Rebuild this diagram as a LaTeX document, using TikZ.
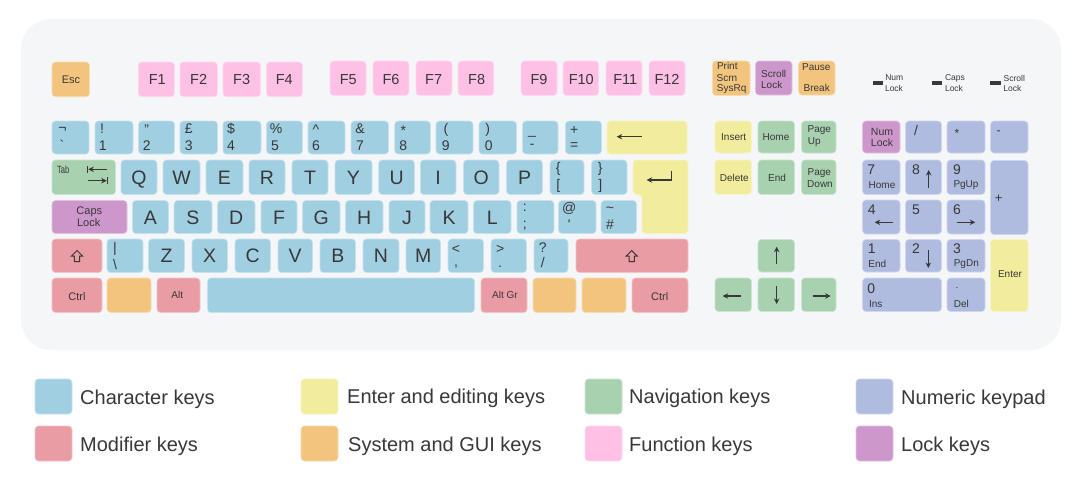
\documentclass[tikz,border=0pt]{standalone}
\usepackage{fontspec}
\setmainfont{Liberation Sans}
\usetikzlibrary{arrows.meta}
\definecolor{panel}{HTML}{F4F6F8}
\definecolor{cchar}{HTML}{A1CFE2}
\definecolor{cedit}{HTML}{F1ED9C}
\definecolor{cnav}{HTML}{A8D1B0}
\definecolor{cmod}{HTML}{E99CA4}
\definecolor{csys}{HTML}{F3C47D}
\definecolor{cfun}{HTML}{FFC0E6}
\definecolor{cnum}{HTML}{AFBCE0}
\definecolor{clock}{HTML}{CE97CC}
\definecolor{ink}{HTML}{383838}
\tikzset{
  keybase/.style={rectangle,rounded corners=3.5pt,inner sep=0pt,outer sep=0pt,line width=0.6pt,text=ink},
  kchar/.style={keybase,fill=cchar,draw=cchar!60!white},
  kedit/.style={keybase,fill=cedit,draw=cedit!60!white},
  knav/.style={keybase,fill=cnav,draw=cnav!60!white},
  kmod/.style={keybase,fill=cmod,draw=cmod!60!white},
  ksys/.style={keybase,fill=csys,draw=csys!60!white},
  kfun/.style={keybase,fill=cfun,draw=cfun!60!white},
  knum/.style={keybase,fill=cnum,draw=cnum!60!white},
  klock/.style={keybase,fill=clock,draw=clock!60!white},
  glyph/.style={draw=ink,line width=1.1pt,-{Stealth[length=5.5pt,width=5.5pt]}},
  shiftglyph/.style={draw=ink,line width=1pt,line join=miter},
  legendtext/.style={anchor=base west,inner sep=0pt,text=ink,font=\fontsize{20}{24}\selectfont},
  led/.style={fill=ink,draw=none}
}
\newcount\tcnt
% key: name, style, x1, y1, x2, y2
\newcommand{\kk}[6]{%
  \pgfmathsetmacro{\kw}{#5-#3}\pgfmathsetmacro{\kh}{#6-#4}%
  \pgfmathsetmacro{\kx}{(#3+#5)/2}\pgfmathsetmacro{\ky}{(#4+#6)/2}%
  \node[#2,minimum width=\kw pt,minimum height=\kh pt] (#1) at (\kx,\ky) {};}
% text: x, y, size, text
\newcommand{\tx}[4]{%
  \global\advance\tcnt by 1
  \node[inner sep=0pt,text=ink,font=\fontsize{#3}{#3}\selectfont] (t\the\tcnt) at (#1,#2) {#4};}
\newcommand{\shiftarrow}[2]{%
  \draw[shiftglyph,shift={(#1,#2)}] (0,-5.5) -- (5.5,0) -- (2.6,0) -- (2.6,5.5) -- (-2.6,5.5) -- (-2.6,0) -- (-5.5,0) -- cycle;}
\begin{document}
\begin{tikzpicture}[x=1pt,y=-1pt]
\useasboundingbox (0,0) rectangle (1080,490);
\fill[white] (0,0) rectangle (1080,490);
\fill[panel,rounded corners=30pt] (21,19) rectangle (1061,350);

% function row
\kk{esc}{ksys}{52}{62}{89.5}{96.7}\tx{71}{79.3}{11}{Esc}
\foreach \n/\a/\b/\c/\u/\v in {F1/138.3/174.5/157.3/62/96.7,F2/180/217.5/198.7/62/96.7,F3/223/260.5/241.7/62/96.7,F4/266.5/302.5/284.3/62/96.7,F5/330/366/348.3/61/95.5,F6/373/409/391/61/95.5,F7/416/452/433.7/61/95.5,F8/458/493.7/476.7/61/95.5,F9/521/557/539/61/95.5,F10/563/598.7/581.3/61/95.5,F11/606/642/625.3/61/95.5,F12/649/685/667/61/95.5}{
  \kk{\n}{kfun}{\a}{\u}{\b}{\v}
  \node[inner sep=0pt,text=ink,font=\fontsize{14.5}{15}\selectfont] (l\n) at (\c,79.2) {\n};
}
\kk{print}{ksys}{712.5}{61}{750}{95.5}
\tx{727.3}{66.3}{10}{Print}\tx{727}{77.7}{10}{Scrn}\tx{731.7}{89}{10}{SysRq}
\kk{scroll}{klock}{755.5}{61}{792}{95}
\tx{773.7}{73.7}{10}{Scroll}\tx{771.7}{84.7}{10}{Lock}
\kk{pause}{ksys}{798.5}{61}{835}{95}
\tx{816.3}{67.3}{10}{Pause}\tx{816.7}{87.7}{10}{Break}

% lock LEDs
\fill[led] (872.5,80.7) rectangle (883,85.3);
\fill[led] (931.5,80.7) rectangle (942,85.3);
\fill[led] (990.3,80.7) rectangle (1001,85.3);
\tx{894.3}{78}{8.5}{Num}\tx{894}{88.3}{8.5}{Lock}
\tx{955}{78}{8.5}{Caps}\tx{954}{88.3}{8.5}{Lock}
\tx{1014.3}{78}{8.5}{Scroll}\tx{1012.3}{88.3}{8.5}{Lock}

% number row
\kk{kA}{kchar}{52}{121}{89}{154}
\kk{kB}{kchar}{95}{121}{133}{154}
\kk{kC}{kchar}{138.5}{121}{174.5}{154}
\kk{kD}{kchar}{180}{121}{217.5}{154}
\kk{kE}{kchar}{223}{121}{261}{154}
\kk{kF}{kchar}{266.5}{121}{302.5}{154}
\kk{kG}{kchar}{308}{121}{345}{154}
\kk{kH}{kchar}{351}{121}{388.5}{154}
\kk{kI}{kchar}{394.7}{121}{430.3}{154}
\kk{kJ}{kchar}{436}{121}{473}{154}
\kk{kK}{kchar}{479}{121}{516.5}{154}
\kk{kL}{kchar}{522.5}{121}{558}{154}
\kk{kM}{kchar}{565.5}{121}{601.5}{154}
\kk{bksp}{kedit}{607}{121}{687}{154}
\draw[glyph] (641.7,136.7) -- (616.7,136.7);
\tx{62.5}{130}{14}{¬}\tx{62}{145}{14}{\textasciigrave}
\tx{102}{129}{14}{!}\tx{102.7}{146}{14}{1}
\tx{146.7}{130}{14}{"}\tx{146.7}{146}{14}{2}
\tx{188.7}{129}{14}{£}\tx{188.7}{146}{14}{3}
\tx{231}{129}{14}{\$}\tx{231}{146}{14}{4}
\tx{276}{129}{14}{\%}\tx{275}{146}{14}{5}
\tx{316}{130}{14}{\textasciicircum}\tx{316}{146}{14}{6}
\tx{360}{129}{14}{\&}\tx{360}{146}{14}{7}
\tx{403.3}{130.5}{14}{*}\tx{403.3}{146}{14}{8}
\tx{446}{130}{14}{(}\tx{445.7}{146}{14}{9}
\tx{487.7}{130}{14}{)}\tx{488.7}{146}{14}{0}
\tx{532}{136}{14}{\_}\tx{532.3}{146}{14}{-}
\tx{574.3}{130}{14}{+}\tx{574.3}{146}{14}{=}

% QWERTY row
\kk{tab}{knav}{52}{160}{115.5}{194.5}
\node[inner sep=0pt,text=ink,font=\fontsize{10.5}{11}\selectfont,xscale=0.72] (tabt) at (63.3,170) {Tab};
\draw[glyph] (106.7,169.3) -- (88.3,169.3);
\draw[ink,line width=1.1pt] (87.3,166) -- (87.3,172.6);
\draw[glyph] (88.3,180.7) -- (106.7,180.7);
\draw[ink,line width=1.1pt] (107.7,177.4) -- (107.7,184);
\foreach \n/\a/\b/\c in {Q/121/157/179.5,W/163/200/178,E/206/243/178,R/249/285/178,T/292/328/178,Y/335/372/178,U/378.7/414.5/178,I/420.3/456/178,O/463.5/499/178,P/506.5/542.5/178}{
  \kk{k\n}{kchar}{\a}{160}{\b}{194.5}
  \pgfmathsetmacro{\cx}{(\a+\b)/2}
  \node[inner sep=0pt,text=ink,font=\fontsize{19.5}{20}\selectfont] (l\n) at (\cx,\c) {\n};
}
\kk{klb}{kchar}{550}{160}{584}{194.5}\tx{558.3}{168.7}{14}{\{}\tx{558.3}{186}{14}{[}
\kk{krb}{kchar}{591.5}{160}{627}{194.5}\tx{600.3}{168.7}{14}{\}}\tx{600.3}{186}{14}{]}
\path[fill=cedit,draw=cedit!60!white,line width=0.6pt,rounded corners=3.5pt]
  (633,160) -- (688,160) -- (688,233.5) -- (642,233.5) -- (642,194.5) -- (633,194.5) -- cycle;
\draw[glyph] (671.3,170.7) -- (671.3,180) -- (646.7,180);

% home row
\kk{caps}{klock}{52}{200.5}{127}{233.5}\tx{89.3}{211.7}{11}{Caps}\tx{88.7}{222.7}{11}{Lock}
\foreach \n/\a/\b in {A/132.5/168.5,S/174/212,D/217.5/255,F/261/297,G/302.5/340,H/345.5/383,J/389/425,K/430/468,L/473.5/511}{
  \kk{k\n}{kchar}{\a}{200.5}{\b}{233.5}
  \pgfmathsetmacro{\cx}{(\a+\b)/2}
  \node[inner sep=0pt,text=ink,font=\fontsize{19.5}{20}\selectfont] (l\n) at (\cx,218) {\n};
}
\kk{ksc}{kchar}{517}{200.5}{554}{233.5}\tx{524.7}{208}{14}{:}\tx{524.7}{226}{14}{;}
\kk{kat}{kchar}{558.5}{200.5}{596}{233.5}\tx{569.3}{208}{14}{@}\tx{569.3}{225}{14}{\textquotesingle}
\kk{kti}{kchar}{601}{200.5}{636.5}{233.5}\tx{610}{210}{14}{\textasciitilde}\tx{610}{225}{14}{\#}

% shift row
\kk{lsh}{kmod}{52}{239}{102}{272.5}\shiftarrow{77}{256}
\kk{kbs}{kchar}{107}{239}{143}{272.5}\tx{115}{249}{14}{|}\tx{115}{264}{14}{\textbackslash}
\foreach \n/\a/\b in {Z/148.5/184.5,X/192/227.5,C/235/270.5,V/278/312.5,B/320/355.5,N/363/399,M/406/440.5}{
  \kk{k\n}{kchar}{\a}{239}{\b}{272.5}
  \pgfmathsetmacro{\cx}{(\a+\b)/2}
  \node[inner sep=0pt,text=ink,font=\fontsize{19.5}{20}\selectfont] (l\n) at (\cx,256) {\n};
}
\kk{klt}{kchar}{448}{239}{483.5}{272.5}\tx{456}{249}{14}{<}\tx{456}{267}{14}{,}
\kk{kgt}{kchar}{491}{239}{526.5}{272.5}\tx{500.3}{249}{14}{>}\tx{500}{267}{14}{.}
\kk{kqu}{kchar}{534}{239}{568}{272.5}\tx{542.7}{247.3}{14}{?}\tx{542.7}{262.7}{14}{/}
\kk{rsh}{kmod}{576}{239}{688}{272.5}\shiftarrow{631.7}{256}

% bottom row
\kk{lct}{kmod}{52}{278}{102}{312.5}\tx{77}{296.7}{11}{Ctrl}
\kk{lwi}{ksys}{107}{278}{151}{312.5}
\kk{alt}{kmod}{157}{278}{200}{312.5}\tx{177.3}{295.3}{10}{Alt}
\kk{spc}{kchar}{207.5}{278}{474.5}{312.5}
\kk{agr}{kmod}{481}{278}{527}{312.5}\tx{505}{295.3}{10}{Alt Gr}
\kk{rwi}{ksys}{533}{278}{576}{312.5}
\kk{men}{ksys}{582}{278}{626}{312.5}
\kk{rct}{kmod}{632}{278}{688}{312.5}\tx{659.7}{296.7}{11}{Ctrl}

% editing cluster
\kk{ins}{kedit}{715}{121}{751.5}{153}\tx{733.7}{137.3}{10}{Insert}
\kk{hom}{knav}{758}{121}{794.5}{153}\tx{776}{137.3}{10}{Home}
\kk{pup}{knav}{801.5}{121}{836}{153}\tx{819.3}{130}{10}{Page}\tx{814.3}{141.7}{10}{Up}
\kk{del}{kedit}{715}{160}{751.5}{194.5}\tx{734.3}{178}{10}{Delete}
\kk{end}{knav}{758}{160}{794.5}{194.5}\tx{777}{178}{10}{End}
\kk{pdn}{knav}{801.5}{160}{836}{194.5}\tx{819.3}{172.7}{10}{Page}\tx{820}{184}{10}{Down}

% arrow keys
\kk{aup}{knav}{758}{239.5}{794.5}{272}\draw[glyph] (776.7,264) -- (776.7,246.7);
\kk{alf}{knav}{715}{278}{751.5}{311.5}\draw[glyph] (740.7,296) -- (722.7,296);
\kk{adn}{knav}{758}{278}{794.5}{311.5}\draw[glyph] (776.7,286) -- (776.7,304);
\kk{art}{knav}{801.5}{278}{836}{311.5}\draw[glyph] (812.7,296) -- (830.7,296);

% numeric keypad
\kk{nlk}{klock}{862.5}{121}{900}{153}\tx{882}{131.7}{10.5}{Num}\tx{882}{143}{10.5}{Lock}
\kk{ndv}{knum}{905.5}{121}{941.5}{153}\tx{916}{130}{14}{/}
\kk{nml}{knum}{947}{121}{985}{153}\tx{957}{133.5}{12}{*}
\kk{nmi}{knum}{990.5}{121}{1028}{153}\tx{998.7}{133}{12}{-}
\kk{n7}{knum}{862.5}{160}{900}{194.5}\tx{871.3}{169.3}{14}{7}\tx{882}{185}{10}{Home}
\kk{n8}{knum}{905.5}{160}{941.5}{194.5}\tx{916}{169.3}{14}{8}\draw[glyph] (928.7,188) -- (928.7,170);
\kk{n9}{knum}{947}{160}{985}{194.5}\tx{957}{169.3}{14}{9}\tx{966}{185.3}{10}{PgUp}
\kk{npl}{knum}{990.5}{160.5}{1028}{234.5}\tx{998.7}{198.3}{13}{+}
\kk{n4}{knum}{862.5}{200}{900}{234}\tx{871.7}{210}{14}{4}\draw[glyph] (892.7,222.3) -- (874.7,222.3);
\kk{n5}{knum}{905.5}{200}{941.5}{234}\tx{916}{210}{14}{5}
\kk{n6}{knum}{947}{200}{985}{234}\tx{957}{210}{14}{6}\draw[glyph] (957.3,222.3) -- (975.3,222.3);
\kk{n1}{knum}{862.5}{239.5}{900}{272}\tx{871.7}{248.7}{14}{1}\tx{877.3}{264}{10}{End}
\kk{n2}{knum}{905.5}{239.5}{941.5}{272}\tx{916}{248.7}{14}{2}\draw[glyph] (928.3,250) -- (928.3,268);
\kk{n3}{knum}{947}{239.5}{985}{272}\tx{957}{248.7}{14}{3}\tx{966.3}{264}{10}{PgDn}
\kk{nen}{kedit}{990.5}{239.5}{1028}{311.5}\tx{1010}{274}{10}{Enter}
\kk{n0}{knum}{862.5}{278}{941.5}{311.5}\tx{871.3}{288.3}{14}{0}\tx{875.7}{304}{10}{Ins}
\kk{ndt}{knum}{947}{278}{985}{311.5}\tx{957}{288}{10}{.}\tx{961.3}{304}{10}{Del}

% legend
\kk{s1}{kchar}{35}{379}{72}{414}
\kk{s2}{kmod}{35}{426}{72}{461}
\kk{s3}{kedit}{301}{379}{338}{414}
\kk{s4}{ksys}{301}{426}{338}{461}
\kk{s5}{knav}{585}{379}{622}{414}
\kk{s6}{kfun}{585}{426}{622}{461}
\kk{s7}{knum}{856}{379}{893}{414}
\kk{s8}{klock}{856}{426}{893}{461}
\node[legendtext] (l1) at (80,404) {Character keys};
\node[legendtext] (l2) at (80,451.5) {Modifier keys};
\node[legendtext] (l3) at (347,403.5) {Enter and editing keys};
\node[legendtext] (l4) at (348,451.5) {System and GUI keys};
\node[legendtext] (l5) at (629,403) {Navigation keys};
\node[legendtext] (l6) at (629,451.5) {Function keys};
\node[legendtext] (l7) at (901,404) {Numeric keypad};
\node[legendtext] (l8) at (901,451.5) {Lock keys};
\end{tikzpicture}
\end{document}
